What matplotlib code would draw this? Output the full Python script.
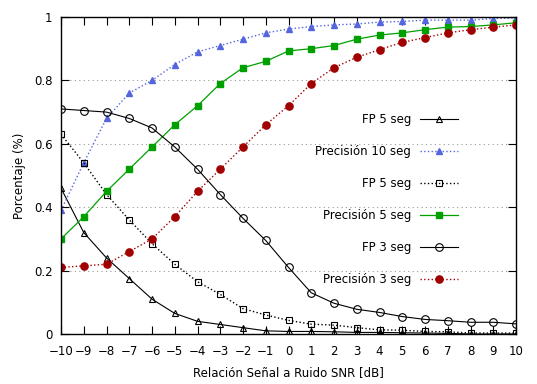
import matplotlib
matplotlib.use("Agg")
import matplotlib.pyplot as plt
import numpy as np

snr = np.arange(-10, 11)

fp_tri = [0.46, 0.32, 0.24, 0.175, 0.11, 0.065, 0.04, 0.03, 0.02, 0.01, 0.008,
          0.008, 0.007, 0.005, 0.005, 0.004, 0.003, 0.002, 0.0, 0.0, 0.0]
prec10 = [0.39, 0.54, 0.68, 0.76, 0.80, 0.85, 0.89, 0.91, 0.93, 0.95, 0.962,
          0.97, 0.975, 0.978, 0.984, 0.986, 0.99, 0.99, 0.99, 0.995, 0.997]
fp_sq = [0.63, 0.54, 0.44, 0.36, 0.285, 0.22, 0.165, 0.125, 0.08, 0.06, 0.043,
         0.031, 0.028, 0.02, 0.013, 0.012, 0.008, 0.007, 0.003, 0.003, 0.003]
prec5 = [0.30, 0.37, 0.45, 0.52, 0.59, 0.66, 0.72, 0.79, 0.84, 0.86, 0.893,
         0.90, 0.91, 0.93, 0.943, 0.95, 0.96, 0.968, 0.97, 0.975, 0.982]
fp3 = [0.71, 0.705, 0.70, 0.68, 0.65, 0.59, 0.52, 0.44, 0.365, 0.295, 0.21,
       0.13, 0.097, 0.078, 0.068, 0.055, 0.046, 0.042, 0.037, 0.037, 0.032]
prec3 = [0.21, 0.215, 0.22, 0.26, 0.30, 0.37, 0.45, 0.52, 0.59, 0.66, 0.72,
         0.79, 0.84, 0.873, 0.897, 0.92, 0.935, 0.95, 0.96, 0.968, 0.975]

yticks = [0, 0.2, 0.4, 0.6, 0.8, 1]
ytick_labels = ['0', '0.2', '0.4', '0.6', '0.8', '1']

plt.rcParams['font.family'] = 'DejaVu Sans'
plt.rcParams['font.size'] = 8

fig, ax = plt.subplots(figsize=(5.37, 3.84), dpi=100)
fig.subplots_adjust(left=61/537, right=516/537, top=1-17/384, bottom=1-334/384)

ax.plot(snr, fp_tri, '-', color='black', lw=0.8, marker='^', ms=4.5,
        mfc='none', mew=0.8, label='FP 5 seg')
ax.plot(snr, prec10, ':', color='#5566dd', lw=1.0, marker='^', ms=5,
        label='Precisión 10 seg')
ax.plot(snr, fp_sq, ':', color='black', lw=1.0, marker='s', ms=5,
        mfc='none', mew=0.8, label='FP 5 seg')
ax.plot(snr, prec5, '-', color='#00a000', lw=0.9, marker='s', ms=5,
        label='Precisión 5 seg')
ax.plot(snr, fp3, '-', color='black', lw=0.8, marker='o', ms=5.5,
        mfc='none', mew=0.8, label='FP 3 seg')
ax.plot(snr, prec3, ':', color='#a00000', lw=1.0, marker='o', ms=5.2,
        label='Precisión 3 seg')

ax.set_xlim(-10, 10)
ax.set_ylim(0, 1)
ax.set_xticks(snr)
ax.set_yticks(yticks)
ax.set_yticklabels(ytick_labels)
ax.tick_params(direction='in', length=6, top=True, right=True, labelsize=8.5)
ax.tick_params(axis='x', pad=8)
ax.tick_params(axis='y', pad=6)
ax.yaxis.grid(True, linestyle=(0, (1, 3)), color='#999999', lw=0.8)
for s in ax.spines.values():
    s.set_linewidth(1.0)

ax.set_xlabel('Relación Señal a Ruido SNR [dB]', fontsize=8.5, labelpad=6)
ax.set_ylabel('Porcentaje (%)', fontsize=8.5, labelpad=6)

ax.legend(loc='upper right', bbox_to_anchor=(0.886, 0.715), frameon=False,
          markerfirst=False, handlelength=3.2, labelspacing=1.6,
          borderpad=0, handletextpad=0.8, fontsize=8.5)

fig.savefig('out.png', dpi=100)
